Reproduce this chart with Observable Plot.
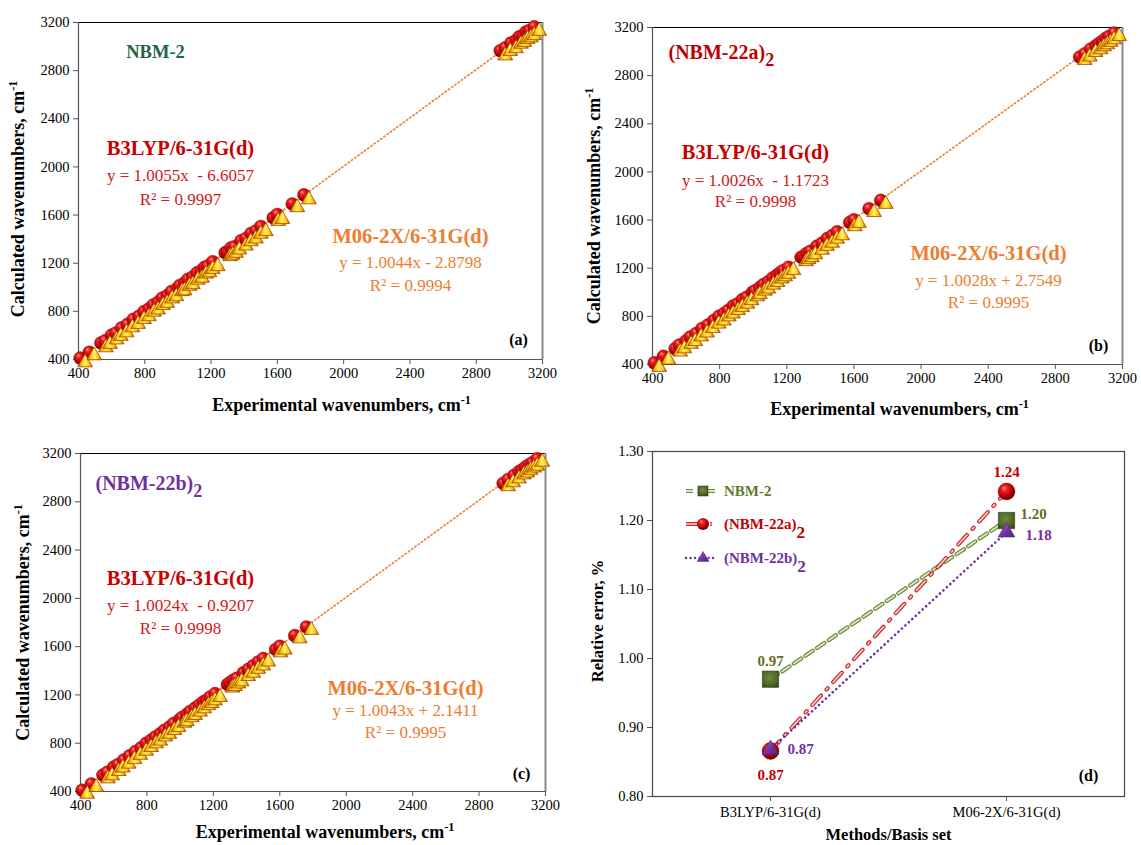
<!DOCTYPE html>
<html><head><meta charset="utf-8">
<script src="https://cdn.jsdelivr.net/npm/d3@7"></script>
<script src="https://cdn.jsdelivr.net/npm/@observablehq/plot@0.6"></script>
<style>
body{margin:0;background:#fff;}
#wrap{position:relative;width:1141px;height:845px;overflow:hidden;background:#fff;}
.panel{position:absolute;}
</style></head><body>
<svg width="0" height="0" style="position:absolute">
 <defs>
  <radialGradient id="ball" cx="0.42" cy="0.38" r="0.62" fx="0.36" fy="0.3">
   <stop offset="0" stop-color="#FF9A8A"/><stop offset="0.28" stop-color="#EE1E1E"/>
   <stop offset="0.72" stop-color="#B20000"/><stop offset="1" stop-color="#640000"/>
  </radialGradient>
  <linearGradient id="cone" x1="0" x2="1" y1="0" y2="0">
   <stop offset="0" stop-color="#D86000"/><stop offset="0.25" stop-color="#FFC000"/>
   <stop offset="0.5" stop-color="#FFF070"/><stop offset="0.78" stop-color="#FFBE00"/>
   <stop offset="1" stop-color="#C85200"/>
  </linearGradient>
  <radialGradient id="sq" cx="0.45" cy="0.4" r="0.7">
   <stop offset="0" stop-color="#6E8C3C"/><stop offset="0.7" stop-color="#4F6228"/><stop offset="1" stop-color="#33421A"/>
  </radialGradient>
  <linearGradient id="tri" x1="0" x2="1" y1="0" y2="1">
   <stop offset="0" stop-color="#9A60D0"/><stop offset="0.6" stop-color="#7030A0"/><stop offset="1" stop-color="#4E1E78"/>
  </linearGradient>
 </defs>
</svg>
<div id="wrap"></div>
<script>
// ---------------- data ----------------
const xTicks = [400, 800, 1200, 1600, 2000, 2400, 2800, 3200];
const yTicks = [400, 800, 1200, 1600, 2000, 2400, 2800, 3200];

const expWavenumbers = [410,465,535,560,600,625,660,695,730,765,795,825,850,880,905,935,960,995,1010,1040,1060,1090,1115,1140,1160,1180,1210,1285,1300,1320,1340,1380,1410,1440,1470,1500,1575,1600,1690,1760,2945,2975,3010,3040,3060,3080,3100,3120,3150];

const calcB3lypA = [412,461,538,555,603,620,663,692,734,760,798,821,853,876,910,931,964,990,1015,1036,1066,1087,1120,1137,1166,1176,1213,1288,1296,1327,1336,1386,1406,1447,1468,1506,1578,1605,1693,1768,2966,2990,3030,3052,3082,3090,3122,3133,3164];
const calcM06A = [408,466,533,561,598,628,657,699,727,768,791,829,847,884,902,939,957,999,1006,1044,1057,1095,1111,1145,1156,1184,1207,1290,1302,1318,1345,1378,1414,1437,1476,1498,1583,1598,1697,1762,2958,2995,3018,3055,3070,3095,3108,3126,3162];

const calcB3lypB = [414,468,532,563,597,629,658,700,728,766,801,823,849,886,903,940,958,1000,1012,1041,1064,1088,1119,1141,1163,1182,1208,1291,1299,1325,1341,1384,1409,1446,1471,1503,1581,1602,1695,1764,2955,2982,3021,3047,3068,3086,3110,3127,3155];
const calcM06B = [411,472,539,566,603,626,665,697,734,771,797,831,855,884,910,937,966,998,1016,1045,1062,1095,1117,1146,1164,1185,1216,1290,1307,1323,1347,1385,1417,1443,1477,1505,1580,1608,1698,1766,2962,2990,3028,3051,3075,3092,3112,3133,3160];

const calcB3lypC = [411,463,536,559,602,623,661,696,731,763,799,826,852,879,908,934,963,993,1013,1039,1063,1091,1116,1143,1158,1183,1211,1287,1303,1322,1338,1383,1412,1442,1473,1502,1577,1604,1692,1763,2953,2985,3019,3050,3066,3088,3107,3124,3157];
const calcM06C = [413,469,540,565,601,630,662,700,735,769,800,830,853,887,909,941,965,1001,1014,1046,1065,1093,1120,1147,1165,1187,1214,1292,1305,1326,1344,1388,1415,1448,1475,1508,1584,1607,1700,1770,2960,2993,3025,3058,3074,3096,3115,3130,3163];

const methods = ["B3LYP/6-31G(d)", "M06-2X/6-31G(d)"];
const errNBM2 = [0.97, 1.20];
const errNBM22a = [0.866, 1.242];
const errNBM22b = [0.868, 1.183];
const errTicks = [0.80, 0.90, 1.00, 1.10, 1.20, 1.30];

// ---------------- helpers ----------------
const FONT = '"Liberation Serif", "Times New Roman", serif';
const RED = "#C80000", ORANGE = "#ED7D31";

function fixScripts(svg) {
  d3.select(svg).selectAll("text").each(function () {
    const t = this.textContent;
    const m = t.match(/^(.*?)([\^_])(.+)$/);
    if (!m) return;
    this.textContent = "";
    const s = d3.select(this);
    s.append("tspan").text(m[1]);
    if (m[2] === "^") s.append("tspan").attr("font-size", "68%").attr("dy", "-0.6em").text(m[3]);
    else s.append("tspan").attr("font-size", "90%").attr("dy", "0.42em").text(m[3]);
  });
}

function place(svg, left, top) {
  const div = document.createElement("div");
  div.className = "panel";
  div.style.left = left + "px";
  div.style.top = top + "px";
  div.appendChild(svg);
  document.getElementById("wrap").appendChild(div);
  fixScripts(svg);
}

function ann(a) {
  return Plot.text([a.t], {
    frameAnchor: "top-left", dx: a.dx, dy: a.dy, fill: a.c, fontSize: a.s,
    fontWeight: a.b ? "bold" : "normal", textAnchor: a.anchor || "middle", lineAnchor: "middle"
  });
}

function scatterPanel(o) {
  const rows = expWavenumbers.map((e, i) => ({exp: e, b3: o.b3[i], m06: o.m06[i]}));
  const lo = d3.min(xTicks), hi = d3.max(xTicks);
  return Plot.plot({
    width: o.w, height: o.h,
    marginLeft: o.ml, marginRight: o.mr, marginTop: o.mt, marginBottom: o.mb,
    style: {fontFamily: FONT, fontSize: "14.5px", color: "#000", background: "transparent", overflow: "visible"},
    x: {domain: [lo, hi]},
    y: {domain: [d3.min(yTicks), d3.max(yTicks)]},
    marks: [
      Plot.ruleY([d3.max(yTicks)], {stroke: "#000", strokeWidth: 1.2}),
      Plot.ruleX([hi], {stroke: "#8a8a8a", strokeWidth: 2}),
      Plot.ruleX([lo], {stroke: "#555", strokeWidth: 1.2}),
      Plot.ruleY([d3.min(yTicks)], {stroke: "#555", strokeWidth: 1.2}),
      Plot.axisX({ticks: xTicks, tickFormat: d => `${d}`, tickSize: 5, tickPadding: 3, label: null, stroke: "#555"}),
      Plot.axisY({ticks: yTicks, tickFormat: d => `${d}`, tickSize: 5, tickPadding: 4, label: null, stroke: "#555"}),
      Plot.text(["Experimental wavenumbers, cm^-1"], {frameAnchor: "bottom", dx: o.xtDx, dy: o.xtDy, textAnchor: "middle", fontWeight: "bold", fontSize: 18, lineAnchor: "middle"}),
      Plot.text(["Calculated wavenumbers, cm^-1"], {frameAnchor: "left", dx: o.ytDx, dy: o.ytDy, rotate: -90, textAnchor: "middle", fontWeight: "bold", fontSize: 18, lineAnchor: "middle"}),
      Plot.linearRegressionY(rows, {x: "exp", y: "m06", stroke: ORANGE, strokeWidth: 1.6, strokeDasharray: "1.4,2.6", ci: 0}),
      Plot.dot(rows, {x: "exp", y: "b3", r: 6.5, fill: "url(#ball)", stroke: "#7a0000", strokeWidth: 0.3}),
      Plot.dot(rows, {x: "exp", y: "m06", symbol: "triangle", r: 5.5, fill: "url(#cone)", stroke: "#9A4A00", strokeWidth: 0.8, dx: 5, dy: 4}),
      ...o.notes.map(ann)
    ]
  });
}

// ---------------- panel (a) ----------------
place(scatterPanel({
  b3: calcB3lypA, m06: calcM06A,
  w: 575, h: 425, ml: 78, mr: 33, mt: 22, mb: 66, xtDx: 31, xtDy: 46, ytDx: -60, ytDy: 8,
  notes: [
    {t: "NBM-2", dx: 77, dy: 30, c: "#1F6446", s: 18.5, b: true},
    {t: "B3LYP/6-31G(d)", dx: 102, dy: 126, c: RED, s: 20.5, b: true},
    {t: "y = 1.0055x  - 6.6057", dx: 102, dy: 153, c: "#D01818", s: 17},
    {t: "R² = 0.9997", dx: 102, dy: 177, c: "#D01818", s: 17},
    {t: "M06-2X/6-31G(d)", dx: 332, dy: 214, c: ORANGE, s: 20.5, b: true},
    {t: "y = 1.0044x - 2.8798", dx: 332, dy: 240, c: ORANGE, s: 17},
    {t: "R² = 0.9994", dx: 332, dy: 263, c: ORANGE, s: 17},
    {t: "(a)", dx: 440, dy: 317, c: "#000", s: 16, b: true}
  ]
}), 0, 0);

// ---------------- panel (b) ----------------
place(scatterPanel({
  b3: calcB3lypB, m06: calcM06B,
  w: 571, h: 425, ml: 82, mr: 19, mt: 27, mb: 61, xtDx: 12, xtDy: 45, ytDx: -58, ytDy: 10,
  notes: [
    {t: "(NBM-22a)_2", dx: 16, dy: 25, c: "#C00000", s: 20, b: true, anchor: "start"},
    {t: "B3LYP/6-31G(d)", dx: 103, dy: 125, c: RED, s: 20.5, b: true},
    {t: "y = 1.0026x  - 1.1723", dx: 103, dy: 153, c: "#D01818", s: 17},
    {t: "R² = 0.9998", dx: 103, dy: 174, c: "#D01818", s: 17},
    {t: "M06-2X/6-31G(d)", dx: 336, dy: 226, c: ORANGE, s: 20.5, b: true},
    {t: "y = 1.0028x + 2.7549", dx: 336, dy: 253, c: ORANGE, s: 17},
    {t: "R² = 0.9995", dx: 336, dy: 275, c: ORANGE, s: 17},
    {t: "(b)", dx: 446, dy: 318, c: "#000", s: 16, b: true}
  ]
}), 570, 0);

// ---------------- panel (c) ----------------
place(scatterPanel({
  b3: calcB3lypC, m06: calcM06C,
  w: 575, h: 420, ml: 80, mr: 30, mt: 28, mb: 54, xtDx: 12, xtDy: 41, ytDx: -57, ytDy: 0,
  notes: [
    {t: "(NBM-22b)_2", dx: 15, dy: 30, c: "#7030A0", s: 20, b: true, anchor: "start"},
    {t: "B3LYP/6-31G(d)", dx: 100, dy: 125, c: RED, s: 20.5, b: true},
    {t: "y = 1.0024x  - 0.9207", dx: 100, dy: 152, c: "#D01818", s: 17},
    {t: "R² = 0.9998", dx: 100, dy: 175, c: "#D01818", s: 17},
    {t: "M06-2X/6-31G(d)", dx: 325, dy: 235, c: ORANGE, s: 20.5, b: true},
    {t: "y = 1.0043x + 2.1411", dx: 325, dy: 257, c: ORANGE, s: 17},
    {t: "R² = 0.9995", dx: 325, dy: 279, c: ORANGE, s: 17},
    {t: "(c)", dx: 441, dy: 320, c: "#000", s: 16, b: true}
  ]
}), 0, 425);

// ---------------- panel (d) ----------------
const series = [
  {name: "NBM-2", values: errNBM2},
  {name: "(NBM-22a)_2", values: errNBM22a},
  {name: "(NBM-22b)_2", values: errNBM22b}
];
const errRows = series.flatMap(s => methods.map((m, i) => ({series: s.name, method: m, value: s.values[i]})));
const S = n => errRows.filter(d => d.series === n);
const f2 = d3.format(".2f");
const r2 = S("NBM-2"), r22a = S("(NBM-22a)_2"), r22b = S("(NBM-22b)_2");
const OLIVE_T = "#6A6A22", PURPLE = "#7030A0";
const lab = (rows, i, c, dx, dy) => Plot.text([rows[i]], {x: "method", y: "value", text: d => f2(d.value), fill: c, fontWeight: "bold", fontSize: 15, dx, dy, lineAnchor: "middle"});

const svgD = Plot.plot({
  width: 571, height: 420, marginLeft: 82, marginRight: 17, marginTop: 26, marginBottom: 49,
  style: {fontFamily: FONT, fontSize: "14.5px", color: "#000", background: "transparent", overflow: "visible"},
  x: {type: "point", domain: methods, padding: 0.5},
  y: {domain: [d3.min(errTicks), d3.max(errTicks)]},
  marks: [
    Plot.frame({stroke: "#444", strokeWidth: 1.2}),
    Plot.axisX({tickSize: 5, tickPadding: 5, label: null, stroke: "#555"}),
    Plot.axisY({ticks: errTicks, tickFormat: ".2f", tickSize: 5, tickPadding: 4, label: null, stroke: "#555"}),
    Plot.text(["Methods/Basis set"], {frameAnchor: "bottom", dy: 38, textAnchor: "middle", fontWeight: "bold", fontSize: 16.5, lineAnchor: "middle"}),
    Plot.text(["Relative error, %"], {frameAnchor: "left", dx: -55, dy: -3, rotate: -90, textAnchor: "middle", fontWeight: "bold", fontSize: 16.5, lineAnchor: "middle"}),
    Plot.line(r2, {x: "method", y: "value", stroke: "#6F8A3A", strokeWidth: 4.2, strokeDasharray: "9,5"}),
    Plot.line(r2, {x: "method", y: "value", stroke: "#DCE6C4", strokeWidth: 1.8, strokeDasharray: "9,5"}),
    Plot.line(r22a, {x: "method", y: "value", stroke: "#D02828", strokeWidth: 4, strokeDasharray: "13,8,2,8"}),
    Plot.line(r22a, {x: "method", y: "value", stroke: "#F6D2D2", strokeWidth: 1.6, strokeDasharray: "13,8,2,8"}),
    Plot.line(r22b, {x: "method", y: "value", stroke: PURPLE, strokeWidth: 2.6, strokeDasharray: "0.1,4.6", strokeLinecap: "round"}),
    Plot.dot(r2, {x: "method", y: "value", symbol: "square", r: 9.2, fill: "url(#sq)", stroke: "#2C3A14", strokeWidth: 0.6}),
    Plot.dot(r22a, {x: "method", y: "value", r: 8.5, fill: "url(#ball)", stroke: "#6a0000", strokeWidth: 0.4}),
    Plot.dot(r22b, {x: "method", y: "value", symbol: "triangle", r: 6.2, fill: "url(#tri)", stroke: "#4A1C70", strokeWidth: 0.5}),
    lab(r2, 0, OLIVE_T, 0, -18),
    lab(r2, 1, OLIVE_T, 27, -6),
    lab(r22a, 0, "#C00000", 0, 24),
    lab(r22a, 1, "#C00000", 0, -19),
    lab(r22b, 0, PURPLE, 30, 0),
    lab(r22b, 1, PURPLE, 32, 3),
    ann({t: "(d)", dx: 436, dy: 324, c: "#000", s: 16, b: true})
  ]
});

// legend (panel d)
(function legend() {
  const g = d3.select(svgD).append("g").attr("font-family", FONT).attr("font-weight", "bold").attr("font-size", 15).attr("text-anchor", "start");
  const items = [
    {name: "NBM-2", color: "#5E7A2E", y: 66},
    {name: "(NBM-22a)", sub: "2", color: "#C00000", y: 99},
    {name: "(NBM-22b)", sub: "2", color: PURPLE, y: 133}
  ];
  const x0 = 116, x1 = 147, xm = 133, xt = 154;
  let it = items[0];
  g.append("line").attr("x1", x0).attr("x2", x1).attr("y1", it.y).attr("y2", it.y).attr("stroke", "#6F8A3A").attr("stroke-width", 4.2).attr("stroke-dasharray", "7,4");
  g.append("line").attr("x1", x0).attr("x2", x1).attr("y1", it.y).attr("y2", it.y).attr("stroke", "#DCE6C4").attr("stroke-width", 1.8).attr("stroke-dasharray", "7,4");
  g.append("rect").attr("x", xm - 5).attr("y", it.y - 5).attr("width", 10).attr("height", 10).attr("fill", "url(#sq)").attr("stroke", "#2C3A14").attr("stroke-width", 0.5);
  it = items[1];
  g.append("line").attr("x1", x0).attr("x2", x1).attr("y1", it.y).attr("y2", it.y).attr("stroke", "#D02828").attr("stroke-width", 4).attr("stroke-dasharray", "16,8,2,8");
  g.append("line").attr("x1", x0).attr("x2", x1).attr("y1", it.y).attr("y2", it.y).attr("stroke", "#F6D2D2").attr("stroke-width", 1.6).attr("stroke-dasharray", "16,8,2,8");
  g.append("circle").attr("cx", xm).attr("cy", it.y).attr("r", 6).attr("fill", "url(#ball)");
  it = items[2];
  g.append("line").attr("x1", x0).attr("x2", x1).attr("y1", it.y).attr("y2", it.y).attr("stroke", PURPLE).attr("stroke-width", 2.4).attr("stroke-dasharray", "0.1,4.4").attr("stroke-linecap", "round");
  g.append("path").attr("d", d3.symbol(d3.symbolTriangle, 70)()).attr("transform", `translate(${xm},${it.y})`).attr("fill", "url(#tri)");
  items.forEach(d => {
    const t = g.append("text").attr("x", xt).attr("y", d.y).attr("dy", "0.35em").attr("fill", d.color);
    t.append("tspan").text(d.name);
    if (d.sub) t.append("tspan").attr("dy", "0.5em").attr("font-size", "115%").text(d.sub);
  });
})();

place(svgD, 570, 425);
</script>
</body></html>
